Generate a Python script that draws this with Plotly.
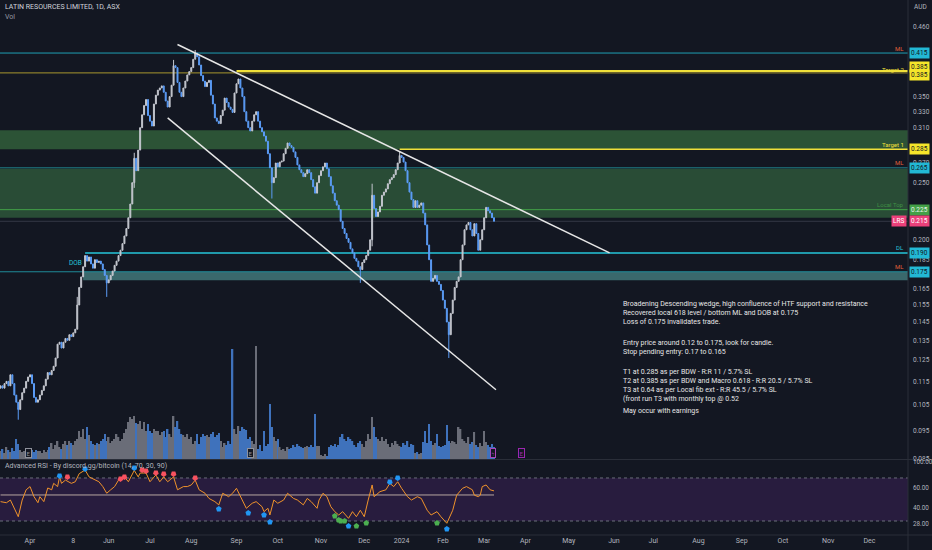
import numpy as np
import pandas as pd
import plotly.graph_objects as go

BG = "#131722"
FONT = "Roboto"
TXT = "#b2b5be"

# daily closes, first bar 13 Mar 2023, last bar 8 Mar 2024
closes = [
    0.113, 0.112, 0.114, 0.115, 0.113, 0.118, 0.114, 0.109, 0.106, 0.103,
    0.107, 0.110, 0.112, 0.115, 0.117, 0.118, 0.114, 0.108, 0.106, 0.107,
    0.109, 0.111, 0.113, 0.116, 0.119, 0.118, 0.120, 0.122, 0.126, 0.133,
    0.134, 0.131, 0.134, 0.136, 0.135, 0.138, 0.137, 0.139, 0.141, 0.155,
    0.166, 0.173, 0.180, 0.188, 0.184, 0.187, 0.182, 0.179, 0.185, 0.183,
    0.184, 0.182, 0.178, 0.174, 0.169, 0.171, 0.174, 0.177, 0.181, 0.184,
    0.188, 0.192, 0.197, 0.203, 0.209, 0.218, 0.230, 0.250, 0.275, 0.262,
    0.284, 0.310, 0.326, 0.338, 0.346, 0.325, 0.318, 0.312, 0.340, 0.352,
    0.359, 0.362, 0.365, 0.356, 0.344, 0.336, 0.350, 0.366, 0.395, 0.392,
    0.370, 0.356, 0.350, 0.362, 0.372, 0.381, 0.386, 0.392, 0.405, 0.415,
    0.409, 0.396, 0.380, 0.372, 0.364, 0.370, 0.373, 0.352, 0.340, 0.322,
    0.318, 0.315, 0.325, 0.332, 0.348, 0.342, 0.336, 0.333, 0.329, 0.355,
    0.368, 0.375, 0.362, 0.350, 0.330, 0.318, 0.310, 0.306, 0.318, 0.326,
    0.330, 0.318, 0.310, 0.305, 0.300, 0.294, 0.280, 0.265, 0.250, 0.255,
    0.270, 0.266, 0.271, 0.272, 0.280, 0.286, 0.292, 0.289, 0.287, 0.282,
    0.276, 0.268, 0.263, 0.260, 0.256, 0.259, 0.263, 0.260, 0.253, 0.246,
    0.240, 0.250, 0.257, 0.262, 0.266, 0.270, 0.264, 0.256, 0.247, 0.240,
    0.233, 0.229, 0.225, 0.215, 0.209, 0.205, 0.201, 0.198, 0.193, 0.190,
    0.186, 0.184, 0.180, 0.178, 0.183, 0.185, 0.188, 0.192, 0.200, 0.238,
    0.226, 0.219, 0.223, 0.228, 0.238, 0.241, 0.244, 0.249, 0.253, 0.255,
    0.258, 0.263, 0.270, 0.278, 0.276, 0.271, 0.262, 0.250, 0.241, 0.234,
    0.227, 0.233, 0.227, 0.229, 0.231, 0.222, 0.212, 0.196, 0.185, 0.170,
    0.172, 0.174, 0.170, 0.168, 0.164, 0.158, 0.153, 0.145, 0.138, 0.150,
    0.158, 0.166, 0.170, 0.173, 0.185, 0.196, 0.208, 0.212, 0.214, 0.208,
    0.203, 0.213, 0.205, 0.192, 0.200, 0.208, 0.218, 0.227, 0.224, 0.222,
    0.218, 0.215,
]
first_open = 0.112

# longer wicks visible on the chart (bar index -> price)
high_idx = [39, 68, 88, 99, 189, 203]
high_val = [0.160, 0.281, 0.404, 0.420, 0.249, 0.283]
low_idx = [9, 54, 68, 138, 183, 189, 228]
low_val = [0.099, 0.160, 0.245, 0.235, 0.169, 0.195, 0.126]

# volume (millions of shares)
volumes = [
    8, 10, 6, 12, 9, 7, 11, 8, 20, 15,
    9, 7, 8, 10, 6, 8, 9, 7, 9, 8,
    8, 6, 9, 7, 9, 12, 16, 10, 14, 18,
    12, 10, 15, 18, 14, 18, 16, 14, 18, 20,
    28, 22, 30, 20, 32, 24, 18, 15, 14, 16,
    15, 18, 20, 25, 18, 22, 16, 18, 20, 25,
    22, 18, 20, 26, 30, 37, 42, 40, 43, 36,
    35, 38, 30, 37, 28, 35, 28, 26, 30, 28,
    28, 24, 27, 28, 22, 30, 25, 22, 43, 32,
    38, 30, 25, 24, 22, 25, 20, 22, 15, 18,
    25, 15, 22, 25, 23, 24, 22, 25, 27, 22,
    24, 26, 18, 12, 16, 14, 18, 15, 110, 30,
    25, 33, 28, 32, 30, 29, 20, 22, 18, 15,
    113, 10, 14, 8, 28, 13, 15, 55, 32, 22,
    18, 20, 12, 9, 10, 8, 12, 10, 11, 14,
    12, 15, 13, 12, 11, 12, 13, 12, 14, 12,
    45, 13, 13, 4, 3, 5, 3, 12, 14, 13,
    15, 12, 14, 22, 25, 20, 18, 22, 20, 18,
    14, 12, 16, 18, 15, 12, 18, 25, 20, 42,
    32, 22, 20, 18, 22, 18, 20, 15, 12, 16,
    14, 18, 15, 13, 12, 16, 14, 18, 12, 15,
    14, 6, 7, 5, 6, 17, 28, 16, 35, 18,
    14, 16, 25, 13, 12, 13, 14, 34, 18, 16,
    18, 17, 15, 32, 30, 20, 18, 16, 22, 15,
    17, 27, 14, 12, 16, 13, 28, 17, 14, 12,
    15, 12,
]

# Advanced RSI line (bar index, value)
rsi_idx = [0, 3, 5, 8, 9, 11, 13, 15, 17, 19, 20, 22, 24, 26, 27, 29, 30, 31, 33, 36,
           38, 40, 43, 45, 48, 50, 52, 54, 56, 58, 60, 63, 65, 68, 70, 71, 74, 76, 79, 81,
           83, 85, 88, 90, 93, 95, 97, 99, 101, 104, 106, 109, 111, 113, 116, 118, 120, 122, 125, 128,
           130, 133, 134, 136, 137, 139, 141, 144, 146, 149, 151, 154, 156, 158, 161, 162, 164, 166, 168, 170,
           172, 174, 177, 179, 181, 183, 185, 187, 189, 190, 193, 196, 198, 200, 202, 204, 207, 209, 212, 214,
           217, 219, 222, 224, 227, 230, 232, 235, 237, 240, 241, 243, 244, 245, 247, 249, 251]
rsi_val = [48, 47, 49.5, 37.5, 34, 49.5, 59, 62, 52.6, 47, 52.6, 48, 60.7, 59, 65, 62, 71, 65, 68, 65,
           66.5, 74, 77.4, 71, 68, 66.5, 62, 55.8, 59, 62, 68, 71, 66.5, 77, 71, 74.6, 74.6, 66.5, 72.8, 66.5,
           71, 66.5, 71, 59, 62, 62, 63.5, 68, 59, 55.8, 51, 48, 45, 55.8, 52.6, 55.8, 60.4, 52.6, 41.8, 46.5,
           48, 43.3, 38.7, 41.8, 35.6, 49.5, 46.5, 49.5, 55.8, 51, 49.5, 45, 51, 48, 41.8, 49.5, 55.8, 52.6, 43.3, 38.7,
           35.6, 38.7, 32.5, 38.7, 34, 40, 34, 49.5, 63.5, 52.6, 57.3, 59, 65, 62, 66.5, 60.4, 52.6, 49.5, 52.6, 51,
           40, 35.6, 38.7, 34, 27.9, 40, 54, 60.4, 62, 59, 54, 52.6, 54, 62, 63.5, 59, 58]
rsi_mid = 54.2
rsi_upper = 70
rsi_lower = 30

# signal markers on the RSI pane
sig_top_blue_idx = [30, 43, 68, 198, 202]
sig_top_blue_val = [71.9, 78.4, 79.3, 66.3, 70.0]
sig_top_red_idx = [34, 61, 63, 72, 74, 79, 83, 88, 99]
sig_top_red_val = [70.9, 69.1, 70.9, 77.4, 76.5, 74.7, 73.7, 73.7, 70.0]
sig_bot_blue_idx = [111, 126, 134, 137, 177, 227]
sig_bot_blue_val = [41.2, 37.4, 35.6, 29.1, 25.3, 22.6]
sig_bot_green_idx = [170, 172, 173, 175, 181, 186, 222]
sig_bot_green_val = [34.7, 30.9, 30.0, 30.0, 25.3, 28.1, 28.1]

asx_holidays = ["2023-04-07", "2023-04-10", "2023-04-25", "2023-06-12",
                "2023-12-25", "2023-12-26", "2024-01-01", "2024-01-26"]

tick_dates = ["2023-04-03", "2023-05-08", "2023-06-01", "2023-07-03", "2023-08-01",
              "2023-09-01", "2023-10-02", "2023-11-01", "2023-12-01", "2024-01-02",
              "2024-02-01", "2024-03-01", "2024-04-01", "2024-05-01", "2024-06-03",
              "2024-07-01", "2024-08-01", "2024-09-02", "2024-10-01", "2024-11-01",
              "2024-12-02"]
tick_labels = ["Apr", "8", "Jun", "Jul", "Aug", "Sep", "Oct", "Nov", "Dec", "2024",
               "Feb", "Mar", "Apr", "May", "Jun", "Jul", "Aug", "Sep", "Oct", "Nov", "Dec"]

price_ticks = [0.46, 0.35, 0.33, 0.31, 0.27, 0.25, 0.20, 0.185, 0.165, 0.155,
               0.145, 0.135, 0.125, 0.115, 0.105, 0.095, 0.085]

# drawn levels
ml_top = 0.415
target2 = 0.385
target1 = 0.285
zone1 = (0.285, 0.307)
zone2 = (0.218, 0.264)
ml_mid = 0.265
local_top = 0.225
last_price = 0.215
dl = 0.190
dob = (0.1707, 0.1765)

wedge_upper_price = [0.429, 0.190]
wedge_lower_price = [0.322, 0.1113]

# ---------------------------------------------------------------
n = len(closes)
days = pd.bdate_range("2023-03-13", "2024-03-29")
days = days[~days.isin(pd.to_datetime(asx_holidays))][:n]
dates = days + pd.Timedelta(hours=12)

opens = [first_open] + closes[:-1]
highs = [max(o, c) for o, c in zip(opens, closes)]
lows = [min(o, c) for o, c in zip(opens, closes)]
for i, v in zip(high_idx, high_val):
    highs[i] = max(highs[i], v)
for i, v in zip(low_idx, low_val):
    lows[i] = min(lows[i], v)
up = [c >= o for o, c in zip(opens, closes)]

X_START = pd.Timestamp("2023-03-13 05:00")
X_END = pd.Timestamp("2024-12-30 02:00")

PH = 535.0  # plot area height in px


def py(px):
    return 1 - px / PH


fig = go.Figure()
shapes = []


def hline(y, x0, x1, color, width=1, dash="solid", yref="y"):
    shapes.append(dict(type="line", xref="x", yref=yref, x0=x0, x1=x1, y0=y, y1=y,
                       layer="below", line=dict(color=color, width=width, dash=dash)))


def band(lo, hi, x0, x1, color, yref="y"):
    shapes.append(dict(type="rect", xref="x", yref=yref, x0=x0, x1=x1, y0=lo, y1=hi,
                       layer="below", fillcolor=color, line=dict(width=0)))


# zones and levels
band(*zone1, X_START, X_END, "#2c5336")
band(*zone2, X_START, X_END, "#294c36")
band(*dob, dates[42], X_END, "#3a686c")
hline(ml_top, X_START, X_END, "#1e9fb5")
hline(target2 - 0.001, X_START, X_END, "#a8962e")
hline(target2 + 0.002, dates[120], X_END, "#f0e03a", 2)
hline(target1, dates[203], X_END, "#f0e03a", 1.5)
hline(ml_mid, X_START, X_END, "#1f7f88")
hline(local_top, X_START, X_END, "#43a047")
hline(last_price, X_START, X_END, "#343846")
hline(dl, dates[43], X_END, "#26c6da", 1.5)
hline(dob[1], X_START, X_END, "#1e8c99")

# RSI pane background and levels
band(rsi_lower, rsi_upper, X_START, X_END, "#281c3e", yref="y3")
hline(rsi_upper, X_START, X_END, "#6b6e7a", dash="dot", yref="y3")
hline(rsi_lower, X_START, X_END, "#6b6e7a", dash="dot", yref="y3")

# volume
fig.add_trace(go.Bar(x=dates, y=volumes, yaxis="y2",
                     marker=dict(color=["#6a6d78" if u else "#3f72bc" for u in up],
                                 line=dict(width=0)),
                     hoverinfo="skip"))

# candles
fig.add_trace(go.Candlestick(
    x=dates, open=opens, high=highs, low=lows, close=closes,
    increasing=dict(line=dict(color="#c3c6ce", width=1), fillcolor="#c3c6ce"),
    decreasing=dict(line=dict(color="#5b9cf6", width=1), fillcolor="#5b9cf6"),
    whiskerwidth=0, hoverinfo="skip"))

# wedge
fig.add_trace(go.Scatter(x=[dates[90], pd.Timestamp("2024-05-30 07:00")], y=wedge_upper_price,
                         mode="lines", line=dict(color="#e6e6e6", width=1.5), hoverinfo="skip"))
fig.add_trace(go.Scatter(x=[dates[85], pd.Timestamp("2024-03-11 12:00")], y=wedge_lower_price,
                         mode="lines", line=dict(color="#e6e6e6", width=1.5), hoverinfo="skip"))

# RSI lines
fig.add_trace(go.Scatter(x=[dates[0], dates[-1]], y=[rsi_mid, rsi_mid], yaxis="y3", mode="lines",
                         line=dict(color="#b8a7a0", width=1), hoverinfo="skip"))
fig.add_trace(go.Scatter(x=dates[rsi_idx], y=rsi_val, yaxis="y3", mode="lines",
                         line=dict(color="#f0932b", width=1), hoverinfo="skip"))


def signals(idx, vals, color, angle):
    fig.add_trace(go.Scatter(x=dates[idx], y=vals, yaxis="y3", mode="markers",
                             marker=dict(symbol="pentagon", size=6, color=color, angle=angle,
                                         line=dict(width=0)),
                             hoverinfo="skip"))


signals(sig_top_blue_idx, sig_top_blue_val, "#2196f3", 180)
signals(sig_top_red_idx, sig_top_red_val, "#f7525f", 180)
signals(sig_bot_blue_idx, sig_bot_blue_val, "#2196f3", 0)
signals(sig_bot_green_idx, sig_bot_green_val, "#4caf50", 0)

# ---------------------------------------------------------------
ann = []


def text(x, y, s, color=TXT, size=7, xanchor="left", yanchor="middle", xref="paper",
         yref="paper", **kw):
    ann.append(dict(x=x, y=y, xref=xref, yref=yref, text=s, showarrow=False,
                    xanchor=xanchor, yanchor=yanchor,
                    font=dict(family=FONT, size=size, color=color), **kw))


def right_box(price, label, bg, fg="#131722", shift=0):
    text(1.0, np.log10(price), label, color=fg, yref="y", xshift=1, yshift=shift,
         bgcolor=bg, borderpad=1, size=6.5)


def right_tag(price, label, color, shift=5):
    text(0.998, np.log10(price), label, color=color, yref="y", xanchor="right", yshift=shift,
         size=6)


text(3 / 908, py(7), "LATIN RESOURCES LIMITED, 1D, ASX", color="#d1d4dc")
text(3 / 908, py(17), "Vol", color="#9598a1")
text(1.0, py(7), "AUD", xshift=4, size=6.5)

right_tag(ml_top, "ML", "#e0603a")
right_box(ml_top, "0.415", "#22b8d4")
right_tag(target2, "Target 2", "#f0e03a", 3)
right_box(target2, "0.385", "#f5e52a", shift=5)
right_box(target2, "0.385", "#f5e52a", shift=-3)
right_tag(target1, "Target 1", "#f0e03a")
right_box(target1, "0.285", "#f5e52a")
right_tag(ml_mid, "ML", "#e0603a")
right_box(ml_mid, "0.265", "#22b8d4")
right_tag(local_top, "Local Top", "#3f8f45")
right_box(local_top, "0.225", "#43a047", fg="#e8f5e9")
text(0.999, np.log10(last_price), "LRS", color="#ffffff", yref="y", xanchor="right",
     bgcolor="#ec407a", borderpad=1, size=6.5)
right_box(last_price, "0.215", "#ec407a", fg="#ffffff")
right_tag(dl, "DL", "#26c6da")
right_box(dl, "0.190", "#22b8d4")
right_tag(dob[1], "ML", "#e0603a")
right_box(dob[1], "0.175", "#22b8d4")
text(dates[38], np.log10(0.183), "DOB", color="#26c6da", xref="x", yref="y", size=6.5,
     xanchor="center")

# earnings / events along the bottom of the price pane
for d, col in ((dates[14], "#8f929c"), (dates[127], "#8f929c"),
               (pd.Timestamp("2024-03-28 12:00"), "#9c27b0")):
    text(d, py(453), "E", color=col, xref="x", xanchor="center", size=6,
         bordercolor=col, borderwidth=1, borderpad=0.5, bgcolor=BG)
text(pd.Timestamp("2024-03-07 18:00"), py(453), "ϟ", color="#ab47bc", xref="x",
     xanchor="center", size=6, bordercolor="#ab47bc", borderwidth=1, borderpad=0.5, bgcolor=BG)

# trade notes
notes = [
    (298, "Broadening Descending wedge, high confluence of HTF support and resistance<br>"
          "Recovered local 618 level / bottom ML and DOB at 0.175<br>"
          "Loss of 0.175 invalidates trade."),
    (337, "Entry price around 0.12 to 0.175, look for candle.<br>"
          "Stop pending entry: 0.17 to 0.165"),
    (366, "T1 at 0.285 as per BDW - R:R 11 / 5.7% SL<br>"
          "T2 at 0.385 as per BDW and Macro 0.618 - R:R 20.5 / 5.7% SL<br>"
          "T3 at 0.64 as per Local fib ext - R:R 45.5 / 5.7% SL<br>"
          "(front run T3 with monthly top @ 0.52"),
    (405, "May occur with earnings"),
]
for top, s in notes:
    text(621 / 908, py(top), s, color="#e6e6e6", size=7, yanchor="top", align="left")

# RSI pane labels
text(3 / 908, py(466), "Advanced RSI - By discord.gg/bitcoin (14, 70, 30, 90)")
for ypx, s in ((462, "100.00"), (487.7, "60.00"), (507.7, "40.00"), (524, "28.00")):
    text(1.0, py(ypx), s, xshift=3, size=6.3)

shapes += [
    dict(type="line", xref="paper", yref="paper", x0=0, x1=1.03, y0=py(459.5), y1=py(459.5),
         line=dict(color="#2a2e39", width=1)),
    dict(type="line", xref="paper", yref="paper", x0=0, x1=1.03, y0=0, y1=0,
         line=dict(color="#2a2e39", width=1)),
    dict(type="line", xref="paper", yref="paper", x0=1, x1=1, y0=-0.03, y1=1,
         line=dict(color="#2a2e39", width=1)),
]

fig.update_layout(
    width=932, height=550,
    margin=dict(l=0, r=24, t=0, b=15),
    paper_bgcolor=BG, plot_bgcolor=BG,
    showlegend=False, hovermode=False, bargap=0.25,
    font=dict(family=FONT, size=7, color=TXT),
    annotations=ann, shapes=shapes,
    xaxis=dict(domain=[0, 1], anchor="y3", type="date", range=[X_START, X_END],
               rangebreaks=[dict(bounds=["sat", "mon"]), dict(values=asx_holidays)],
               tickvals=[pd.Timestamp(d) + pd.Timedelta(hours=12) for d in tick_dates],
               ticktext=tick_labels, tickfont=dict(size=7, color=TXT),
               showgrid=False, zeroline=False, showline=False, ticks="",
               rangeslider=dict(visible=False)),
    yaxis=dict(domain=[1 - 459 / PH, 1], type="log", anchor="x", side="right",
               range=[np.log10(0.0849), np.log10(0.5106)],
               tickvals=price_ticks, ticktext=[f"{v:.3f}" for v in price_ticks],
               tickfont=dict(size=6.5, color=TXT), ticks="", ticklabelstandoff=4,
               showgrid=False, zeroline=False, showline=False),
    yaxis2=dict(overlaying="y", range=[0, 459], visible=False),
    yaxis3=dict(domain=[0, 1 - 460 / PH], anchor="x", range=[17, 86.7], visible=False),
)

# page body margin would shift the 932x550 figure inside the window
fig.write_html("out.html", config={"displayModeBar": False},
               post_script="document.body.style.margin='0';"
                           "document.body.style.background='#131722';")
